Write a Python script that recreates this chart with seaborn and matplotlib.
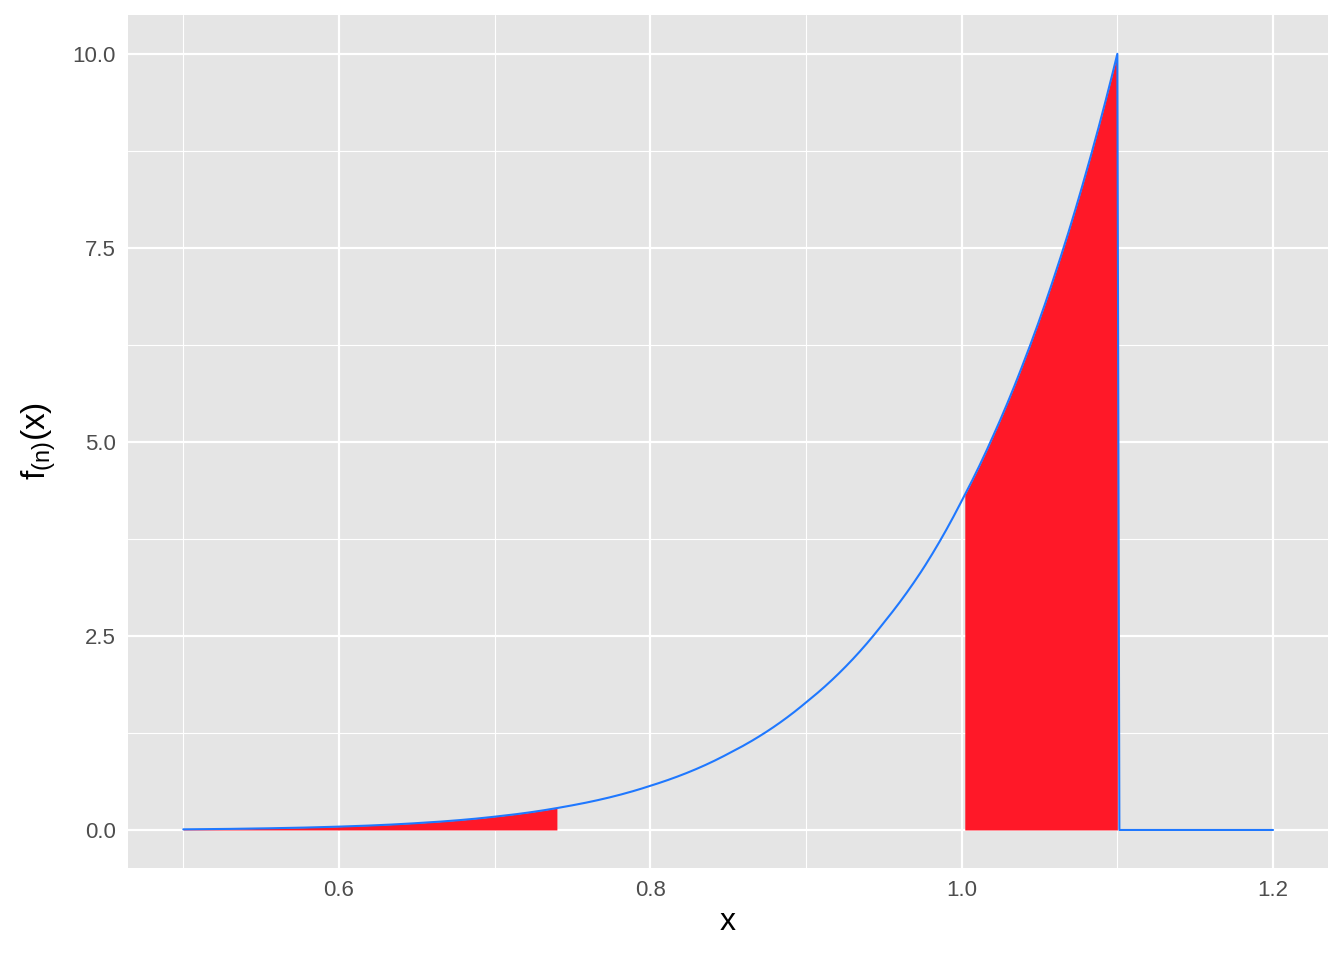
import numpy as np
import pandas as pd
import matplotlib
matplotlib.use("Agg")
import matplotlib.pyplot as plt
import seaborn as sns

# Density curve values
x_vals = [0.50, 0.55, 0.60, 0.65, 0.70, 0.74, 0.75, 0.80, 0.85, 0.90, 0.95,
          0.975, 1.00, 1.02, 1.04, 1.06, 1.08, 1.10, 1.1013, 1.20]
y_vals = [0.008, 0.020, 0.043, 0.088, 0.171, 0.282, 0.318, 0.569, 0.982, 1.643, 2.672,
          3.36, 4.24, 5.067, 6.035, 7.163, 8.476, 10.0, 0.0, 0.0]

# Shaded regions (x ranges)
left_region = (0.50, 0.74)
right_region = (1.002, 1.10)

x_ticks = [0.6, 0.8, 1.0, 1.2]
y_ticks = [0.0, 2.5, 5.0, 7.5, 10.0]

df = pd.DataFrame({"x": x_vals, "y": y_vals})

sns.set_theme(style="darkgrid")
plt.rcParams['font.family'] = ['Liberation Sans', 'DejaVu Sans']
plt.rcParams['mathtext.fontset'] = 'custom'
plt.rcParams['mathtext.rm'] = 'Liberation Sans'
plt.rcParams['mathtext.it'] = 'Liberation Sans'

fig = plt.figure(figsize=(13.44, 9.6), dpi=100)
ax = fig.add_axes([128/1344, 1-868/960, 1200/1344, 853/960])
ax.set_facecolor("#E5E5E5")

curve = df.iloc[:18]
def shade(lo, hi):
    xs = np.linspace(lo, hi, 200)
    ys = np.exp(np.interp(xs, curve["x"], np.log(curve["y"])))
    ax.fill_between(xs, 0, ys, color="#FF1828", linewidth=0, zorder=2)

shade(*left_region)
shade(*right_region)

xs_line = np.linspace(0.5, 1.1, 400)
ys_line = np.exp(np.interp(xs_line, curve["x"], np.log(curve["y"])))
line_df = pd.DataFrame({"x": np.concatenate([xs_line, [1.1013, 1.2]]),
                        "y": np.concatenate([ys_line, [0.0, 0.0]])})
sns.lineplot(data=line_df, x="x", y="y", ax=ax, color="#1F78FF", linewidth=1.5,
             sort=False, estimator=None, zorder=3)

ax.set_xlim(0.4645, 1.2353)
ax.set_ylim(-0.49, 10.5)
ax.set_xticks(x_ticks)
ax.set_xticklabels([f"{v:.1f}" for v in x_ticks])
ax.set_yticks(y_ticks)
ax.set_yticklabels([f"{v:.1f}" for v in y_ticks])
ax.set_xticks([0.5, 0.7, 0.9, 1.1], minor=True)
ax.set_yticks([1.25, 3.75, 6.25, 8.75], minor=True)

ax.grid(which="major", color="white", linewidth=1.6)
ax.grid(which="minor", color="white", linewidth=0.8)
ax.set_axisbelow(True)
for s in ax.spines.values():
    s.set_visible(False)

ax.tick_params(axis="both", which="major", length=5, width=1.2, color="#333333",
               labelsize=16, labelcolor="#4D4D4D", pad=4)
ax.tick_params(axis="both", which="minor", length=0)

ax.set_xlabel("x", fontsize=23, color="black", labelpad=4)
ax.set_ylabel(r"$\mathregular{f_{(n)}(x)}$", fontsize=24, color="black", labelpad=10)

fig.savefig("out.png", dpi=100)
